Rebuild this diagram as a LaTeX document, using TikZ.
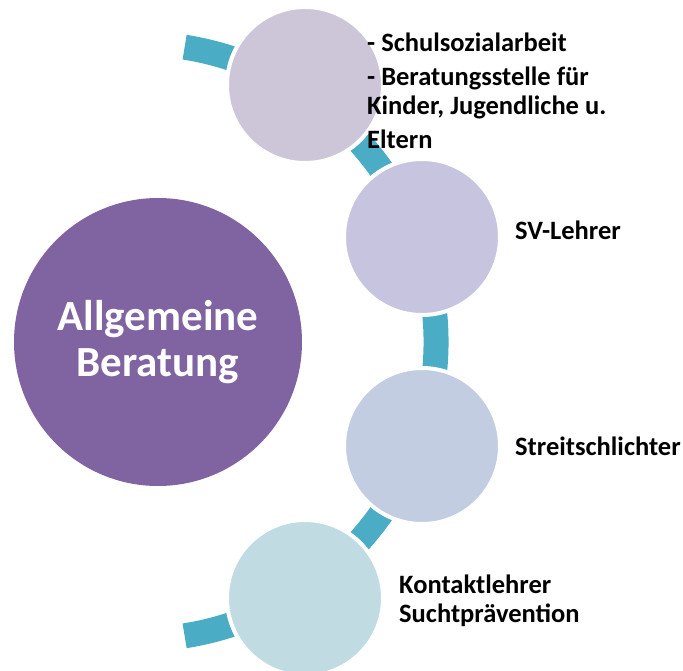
\documentclass[tikz,border=0pt]{standalone}
\usepackage{fontspec}
\setmainfont{Carlito}
\usetikzlibrary{positioning}
\definecolor{hubpurple}{RGB}{128,100,162}
\definecolor{bandteal}{RGB}{75,172,198}
\definecolor{circA}{RGB}{205,198,217}
\definecolor{circB}{RGB}{198,196,222}
\definecolor{circC}{RGB}{194,205,225}
\definecolor{circD}{RGB}{193,219,227}

\begin{document}
\begin{tikzpicture}[
  x=1pt, y=-1pt,
  font=\bfseries\fontsize{26.5}{29}\selectfont,
  hub/.style={circle, fill=hubpurple, minimum size=288pt, inner sep=0pt, text=white, align=center,
    font=\bfseries\fontsize{43}{46}\selectfont},
  item/.style={circle, draw=white, line width=4pt, minimum size=156pt, inner sep=0pt},
  lbl/.style={anchor=base west, align=left, inner sep=0pt},
  band/.style={draw=bandteal, line width=25pt}
]
\useasboundingbox (0,0) rectangle (683,671);
\coordinate (bandc) at (138,341.5);
\draw[band] (bandc) ++(81:298) arc[start angle=81, end angle=-81, radius=298];

\node[hub] (beratung) at (158,342) {Allgemeine\\Beratung};
\node[item, fill=circA] (schule) at (305,85) {};
\node[item, fill=circB] (sv) at (422,237) {};
\node[item, fill=circC] (streit) at (422,446) {};
\node[item, fill=circD] (sucht) at (305,598) {};

% base of a multi-line label is its last line
\node[lbl] (schule-t) at (367,149) {- Schulsozialarbeit\\[5pt]- Beratungsstelle für\\Kinder, Jugendliche u.\\[5pt]Eltern};
\node[lbl] (sv-t) at (515,240) {SV-Lehrer};
\node[lbl] (streit-t) at (515,455) {Streitschlichter};
\node[lbl] (sucht-t) at (399,622) {Kontaktlehrer\\Suchtprävention};
\end{tikzpicture}
\end{document}
